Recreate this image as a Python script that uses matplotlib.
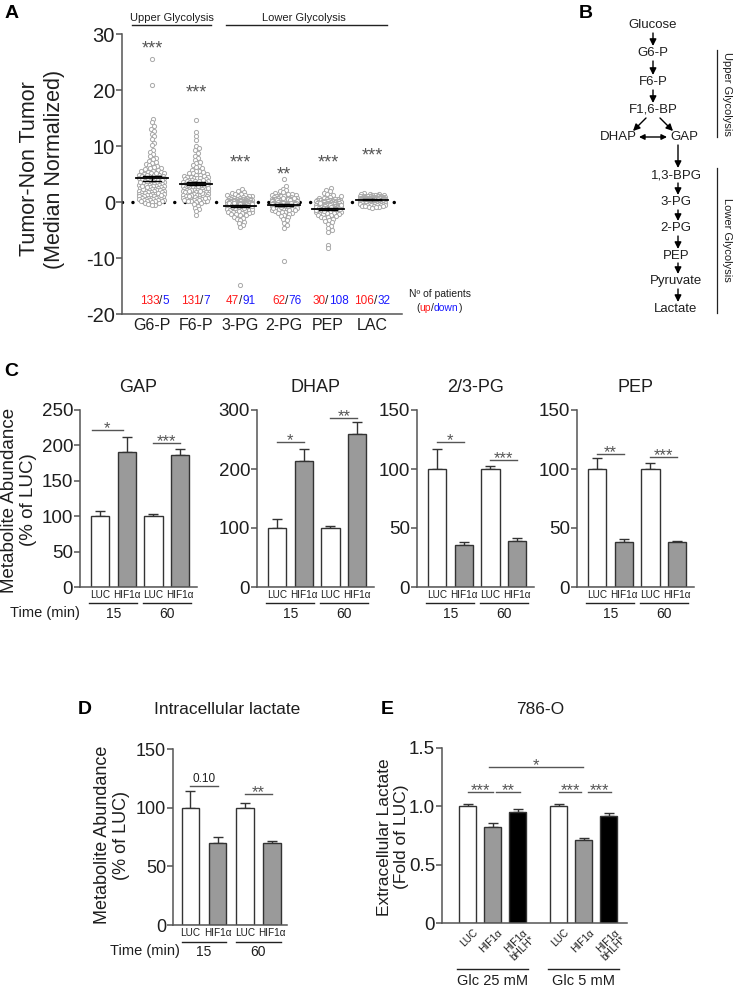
import numpy as np
import matplotlib
matplotlib.use('Agg')
import matplotlib.pyplot as plt
from matplotlib.transforms import blended_transform_factory as btf

plt.rcParams['font.family'] = ['Liberation Sans', 'DejaVu Sans']
plt.rcParams['axes.unicode_minus'] = False

# ---------------- DATA ----------------
a_metabolites = ['G6-P', 'F6-P', '3-PG', '2-PG', 'PEP', 'LAC']
a_up = [133, 131, 47, 62, 30, 106]
a_down = [5, 7, 91, 76, 108, 32]
a_means = [4.2, 3.3, -0.7, -0.5, -1.2, 0.4]
a_sems = [0.4, 0.3, 0.18, 0.2, 0.2, 0.06]
a_sig = ['***', '***', '***', '**', '***', '***']
a_sig_y = [28.3, 20.5, 8.0, 5.8, 8.0, 9.2]

g6p = [25.6, 20.9, 14.8, 14.2, 13.6, 13.1, 12.7, 12.2, 11.7, 11.2, 10.6, 10.1, 9.3, 8.9, 8.6, 8.2, 7.9, 7.7,
       7.4, 7.2, 7.0, 6.8, 6.6, 6.4, 6.3, 6.1, 6.0, 5.9, 5.7, 5.6, 5.5, 5.4, 5.3, 5.2, 5.1, 5.0, 4.9, 4.9, 4.8,
       4.7, 4.6, 4.6, 4.5, 4.4, 4.3, 4.3, 4.2, 4.1, 4.0, 4.0, 3.9, 3.8, 3.8, 3.7, 3.6, 3.6, 3.5, 3.4, 3.4, 3.3,
       3.2, 3.2, 3.1, 3.0, 3.0, 2.9, 2.8, 2.8, 2.7, 2.7, 2.6, 2.5, 2.5, 2.4, 2.4, 2.3, 2.2, 2.2, 2.1, 2.1, 2.0,
       1.9, 1.9, 1.8, 1.8, 1.7, 1.7, 1.6, 1.5, 1.5, 1.4, 1.4, 1.3, 1.3, 1.2, 1.1, 1.1, 1.0, 1.0, 0.9, 0.9, 0.8,
       0.8, 0.7, 0.7, 0.6, 0.6, 0.5, 0.5, 0.4, 0.4, 0.3, 0.3, 0.2, 0.2, 0.1, 0.1, 0.05, 3.5, 3.1, 2.6, 4.4, 4.8,
       2.3, 1.6, 5.2, 3.9, 2.9, 1.2, -0.1, -0.2, -0.3, -0.5, -0.6]
f6p = [14.6, 12.5, 11.7, 11.0, 10.0, 9.6, 9.3, 8.8, 8.3, 7.9, 7.5, 7.2, 6.9, 6.6, 6.4, 6.2, 6.0, 5.8, 5.6, 5.5,
       5.3, 5.2, 5.1, 5.0, 4.9, 4.8, 4.7, 4.6, 4.5, 4.5, 4.4, 4.3, 4.2, 4.1, 4.1, 4.0, 3.9, 3.8, 3.8, 3.7, 3.6,
       3.6, 3.5, 3.4, 3.4, 3.3, 3.2, 3.2, 3.1, 3.0, 3.0, 2.9, 2.9, 2.8, 2.7, 2.7, 2.6, 2.6, 2.5, 2.4, 2.4, 2.3,
       2.3, 2.2, 2.1, 2.1, 2.0, 2.0, 1.9, 1.8, 1.8, 1.7, 1.7, 1.6, 1.5, 1.5, 1.4, 1.4, 1.3, 1.2, 1.2, 1.1, 1.1,
       1.0, 0.9, 0.9, 0.8, 0.8, 0.7, 0.6, 0.6, 0.5, 0.5, 0.4, 0.3, 0.3, 0.2, 0.2, 0.1, 0.1, 0.05, 3.5, 2.8, 2.2,
       4.3, 1.6, 3.0, 2.5, 1.9, 3.7, 0.7, 1.3, 4.0, 2.0, 1.0, -0.2, -0.4, -0.7, -1.0, -1.3, -1.6, -2.3]
pg3 = [2.3, 2.0, 1.8, 1.6, 1.5, 1.4, 1.3, 1.2, 1.1, 1.0, 1.0, 0.9, 0.9, 0.8, 0.8, 0.7, 0.7, 0.6, 0.6, 0.6, 0.5,
       0.5, 0.5, 0.4, 0.4, 0.4, 0.4, 0.3, 0.3, 0.3, 0.3, 0.2, 0.2, 0.2, 0.2, 0.2, 0.1, 0.1, 0.1, 0.1, 0.1, 0.05,
       0.05, 0.05, 0.05, 0.02, 0.02,
       -0.05, -0.05, -0.1, -0.1, -0.1, -0.15, -0.15, -0.2, -0.2, -0.2, -0.25, -0.3, -0.3, -0.3, -0.35, -0.4,
       -0.4, -0.4, -0.45, -0.5, -0.5, -0.5, -0.55, -0.6, -0.6, -0.6, -0.65, -0.7, -0.7, -0.7, -0.75, -0.8, -0.8,
       -0.8, -0.85, -0.9, -0.9, -0.95, -1.0, -1.0, -1.05, -1.1, -1.1, -1.2, -1.2, -1.3, -1.3, -1.4, -1.4, -1.5,
       -1.5, -1.6, -1.7, -1.7, -1.8, -1.9, -2.0, -2.1, -2.2, -2.3, -2.4, -2.6, -2.8, -3.0, -3.2, -3.5, -3.8,
       -4.1, -4.5, -0.2, -0.3, -0.5, -0.6, -0.7, -0.8, -0.9, -1.0, -0.4, -0.1, -0.3, -0.6, -1.2, -0.9, -0.5,
       -0.7, -1.1, -0.2, -0.4, -14.9]
pg2 = [4.1, 2.8, 2.4, 2.1, 1.9, 1.7, 1.6, 1.5, 1.4, 1.3, 1.2, 1.1, 1.0, 1.0, 0.9, 0.9, 0.8, 0.8, 0.7, 0.7, 0.7,
       0.6, 0.6, 0.6, 0.5, 0.5, 0.5, 0.4, 0.4, 0.4, 0.4, 0.3, 0.3, 0.3, 0.3, 0.2, 0.2, 0.2, 0.2, 0.2, 0.15, 0.15,
       0.1, 0.1, 0.1, 0.1, 0.05, 0.05, 0.05, 0.02, 0.6, 0.4, 0.3, 0.2, 0.1, 0.8, 0.5, 0.3, 1.1, 0.7, 0.2, 0.4,
       -0.05, -0.1, -0.1, -0.15, -0.2, -0.2, -0.25, -0.3, -0.3, -0.35, -0.4, -0.4, -0.45, -0.5, -0.5, -0.55,
       -0.6, -0.6, -0.65, -0.7, -0.7, -0.75, -0.8, -0.8, -0.85, -0.9, -0.9, -1.0, -1.0, -1.1, -1.1, -1.2, -1.2,
       -1.3, -1.4, -1.4, -1.5, -1.6, -1.7, -1.8, -1.9, -2.0, -2.1, -2.3, -2.5, -2.7, -3.0, -3.3, -3.7, -4.1,
       -4.6, -0.2, -0.3, -0.4, -0.5, -0.6, -0.7, -0.8, -0.9, -0.1, -0.3, -0.5, -0.6, -1.0, -0.4, -0.2, -10.6]
pep = [2.5, 2.2, 1.9, 1.6, 1.4, 1.2, 1.0, 0.9, 0.8, 0.7, 0.6, 0.5, 0.5, 0.4, 0.4, 0.3, 0.3, 0.3, 0.2, 0.2, 0.2,
       0.15, 0.1, 0.1, 0.1, 0.05, 0.05, 0.05, 0.02, 0.02,
       -0.05, -0.1, -0.1, -0.15, -0.2, -0.2, -0.25, -0.3, -0.3, -0.35, -0.4, -0.4, -0.45, -0.5, -0.5, -0.55,
       -0.6, -0.6, -0.65, -0.7, -0.7, -0.75, -0.8, -0.8, -0.85, -0.9, -0.9, -0.95, -1.0, -1.0, -1.05, -1.1,
       -1.1, -1.15, -1.2, -1.2, -1.25, -1.3, -1.3, -1.35, -1.4, -1.4, -1.5, -1.5, -1.6, -1.6, -1.7, -1.7, -1.8,
       -1.8, -1.9, -2.0, -2.0, -2.1, -2.2, -2.3, -2.4, -2.5, -2.6, -2.7, -2.8, -3.0, -3.2, -3.4, -3.6, -3.9,
       -4.2, -4.6, -5.0, -5.3, -0.3, -0.6, -0.9, -1.2, -1.5, -0.8, -1.0, -1.3, -0.5, -0.7, -1.1, -1.4, -0.2,
       -0.9, -1.6, -1.0, -7.6, -8.3]
lac = [1.6, 1.5, 1.4, 1.35, 1.3, 1.25, 1.2, 1.2, 1.15, 1.1, 1.1, 1.05, 1.0, 1.0, 1.0, 0.95, 0.95, 0.9, 0.9, 0.9,
       0.85, 0.85, 0.8, 0.8, 0.8, 0.8, 0.75, 0.75, 0.75, 0.7, 0.7, 0.7, 0.7, 0.65, 0.65, 0.65, 0.6, 0.6, 0.6,
       0.6, 0.55, 0.55, 0.55, 0.5, 0.5, 0.5, 0.5, 0.5, 0.45, 0.45, 0.45, 0.45, 0.4, 0.4, 0.4, 0.4, 0.4, 0.35,
       0.35, 0.35, 0.35, 0.3, 0.3, 0.3, 0.3, 0.3, 0.25, 0.25, 0.25, 0.25, 0.2, 0.2, 0.2, 0.2, 0.2, 0.15, 0.15,
       0.15, 0.15, 0.1, 0.1, 0.1, 0.1, 0.1, 0.08, 0.08, 0.06, 0.06, 0.05, 0.05, 0.04, 0.04, 0.03, 0.03, 0.02,
       0.02, 0.6, 0.5, 0.4, 0.3, 0.7, 0.2, 0.45, 0.35, 0.55, 0.25,
       -0.05, -0.05, -0.1, -0.1, -0.1, -0.15, -0.15, -0.2, -0.2, -0.2, -0.25, -0.25, -0.3, -0.3, -0.35, -0.35,
       -0.4, -0.4, -0.45, -0.5, -0.5, -0.55, -0.6, -0.6, -0.65, -0.7, -0.75, -0.8, -0.85, -0.9, -0.95, -1.0]
a_values = [g6p, f6p, pg3, pg2, pep, lac]

c_titles = ['GAP', 'DHAP', '2/3-PG', 'PEP']
c_bar_labels = ['LUC', 'HIF1α', 'LUC', 'HIF1α']
c_times = ['15', '60']
c_vals = [[100, 191, 100, 187], [100, 213, 100, 260], [100, 36, 100, 39], [100, 38, 100, 38]]
c_errs = [[8, 21, 3, 8], [16, 21, 4, 19], [17, 2.5, 2.5, 2.5], [9, 3, 5, 1]]
c_ymax = [250, 300, 150, 150]
c_yticks = [[0, 50, 100, 150, 200, 250], [0, 100, 200, 300], [0, 50, 100, 150], [0, 50, 100, 150]]
c_sig = [[('*', 222), ('***', 204)], [('*', 246), ('**', 286)],
         [('*', 123), ('***', 108)], [('**', 112.5), ('***', 110)]]

d_vals = [100, 70, 100, 70]
d_errs = [14, 5, 4, 2]
d_sig = [('0.10', 118.5), ('**', 111.6)]

e_labels = ['LUC', 'HIF1α', 'HIF1α\nbHLH*', 'LUC', 'HIF1α', 'HIF1α\nbHLH*']
e_vals = [1.00, 0.82, 0.955, 1.00, 0.71, 0.92]
e_errs = [0.02, 0.035, 0.02, 0.02, 0.02, 0.025]
e_groups = ['Glc 25 mM', 'Glc 5 mM']
e_sig = [('***', 1.125, 0, 1), ('**', 1.125, 1.15, 2.1), ('***', 1.125, 3.65, 4.55),
         ('***', 1.125, 4.8, 5.75), ('*', 1.34, 0.86, 4.62)]

pathway = [('Glucose', 653, 25), ('G6-P', 653, 53), ('F6-P', 653, 82), ('F1,6-BP', 653, 110),
           ('DHAP', 618, 137), ('GAP', 684, 137), ('1,3-BPG', 676, 175), ('3-PG', 676, 202),
           ('2-PG', 676, 228), ('PEP', 676, 256), ('Pyruvate', 676, 281), ('Lactate', 676, 309)]

# ---------------- STYLE ----------------
W, H = 733, 986
TXT = '#1e1e1e'
SPINE = '#555555'
EDGE = '#333333'
GRAYBAR = '#9a9a9a'
SIGC = '#555555'
RED = '#ff1a1a'
BLUE = '#1a1aff'

fig = plt.figure(figsize=(W / 100, H / 100), dpi=100)


def rect(x0, y0, x1, y1):
    return [x0 / W, 1 - y1 / H, (x1 - x0) / W, (y1 - y0) / H]


def style_axes(ax, fs):
    for s in ['top', 'right']:
        ax.spines[s].set_visible(False)
    for s in ['left', 'bottom']:
        ax.spines[s].set_color(SPINE)
        ax.spines[s].set_linewidth(1.1)
    ax.tick_params(axis='y', colors=SPINE, labelcolor=TXT, labelsize=fs, length=4, width=1.1, pad=1)
    ax.tick_params(axis='x', length=0, labelcolor=TXT)


def stars(ax, x, y, txt, fs, dy_pt=0.0, **kw):
    # place asterisks so that their visual centre sits at (x, y) + dy
    ax.annotate(txt, xy=(x, y), xytext=(0, dy_pt - 0.56 * fs), textcoords='offset points',
                ha='center', va='baseline', fontsize=fs, color=SIGC, annotation_clip=False, **kw)


# ---------------- PANEL A ----------------
axA = fig.add_axes(rect(122, 34, 402, 314))
style_axes(axA, 14.5)
axA.set_xlim(-0.68, 5.68)
axA.set_ylim(-20, 30)
axA.set_yticks([-20, -10, 0, 10, 20, 30])
axA.set_xticks(range(6))
axA.set_xticklabels(a_metabolites, fontsize=11.5)
axA.tick_params(axis='x', pad=3)
axA.axhline(0, color='k', lw=2.5, dashes=(0.01, 3.0), dash_capstyle='round', zorder=1)

ppx = (axA.transData.transform((1, 0)) - axA.transData.transform((0, 0)))[0]


def swarm_offsets(ax, xc, vals, d, half):
    ypx = ax.transData.transform(np.column_stack([np.full(len(vals), xc), vals]))[:, 1]
    order = np.argsort(ypx)
    placed = []
    offs = np.zeros(len(vals))
    cands = [0.0]
    k = 1
    while k * 0.5 <= half:
        cands += [k * 0.5, -k * 0.5]
        k += 1
    cands = np.array(cands)
    for i in order:
        y = ypx[i]
        near = np.array([(px, py) for (px, py) in placed if abs(py - y) < d])
        if len(near) == 0:
            c = 0.0
        else:
            dist = np.sqrt((cands[:, None] - near[None, :, 0]) ** 2 + (y - near[None, :, 1]) ** 2).min(axis=1)
            ok = np.where(dist >= d)[0]
            c = cands[ok[0]] if len(ok) else cands[np.argmax(dist)]
        offs[i] = c
        placed.append((c, y))
    return offs


for i, vals in enumerate(a_values):
    vals = np.array(vals, dtype=float)
    offs = swarm_offsets(axA, i, vals, 3.5, 12.5)
    axA.plot(i + offs / ppx, vals, ls='none', marker='o', ms=3.0, mfc='white', mec='#a8a8a8',
             mew=0.7, zorder=3)
    m, s = a_means[i], a_sems[i]
    axA.plot([i - 0.36, i + 0.36], [m, m], color='k', lw=1.3, zorder=5)
    axA.plot([i, i], [m - s, m + s], color='k', lw=1.0, zorder=5)
    for yy in (m - s, m + s):
        axA.plot([i - 0.2, i + 0.2], [yy, yy], color='k', lw=1.0, zorder=5)
    stars(axA, i, a_sig_y[i], a_sig[i], 13)

# ---------------- PANEL C ----------------
c_left = [80, 257, 417, 577]
xs4 = np.arange(4)


def bar_panel(ax, xs, vals, errs, colors, width):
    ax.bar(xs, vals, width=width, color=colors, edgecolor=EDGE, linewidth=1.0, zorder=2)
    ax.errorbar(xs, vals, yerr=[np.zeros(len(errs)), errs], fmt='none', ecolor=EDGE,
                elinewidth=1.0, capsize=3.5, capthick=1.0, zorder=1)


def sig_line(ax, x1, x2, y, txt, fs=12):
    ax.plot([x1, x2], [y, y], color=SIGC, lw=1.0, clip_on=False)
    if txt.startswith('*'):
        stars(ax, (x1 + x2) / 2, y, txt, fs, dy_pt=4.5)
    else:
        ax.annotate(txt, xy=((x1 + x2) / 2, y), xytext=(0, 2.5), textcoords='offset points',
                    ha='center', va='baseline', fontsize=8.5, color=TXT, annotation_clip=False)


def group_lines(ax, centers, half, labels, yline, ytext, fs):
    tr = btf(ax.transData, ax.transAxes)
    for c, lab in zip(centers, labels):
        ax.plot([c - half, c + half], [yline, yline], color='#222222', lw=1.0, transform=tr, clip_on=False)
        ax.text(c, ytext, lab, transform=tr, ha='center', va='center', fontsize=fs, color=TXT)


for k in range(4):
    L = c_left[k]
    ax = fig.add_axes(rect(L, 410, L + 117, 587))
    style_axes(ax, 13.5)
    ax.set_xlim(-0.75, 3.63)
    ax.set_ylim(0, c_ymax[k])
    ax.set_yticks(c_yticks[k])
    bar_panel(ax, xs4, c_vals[k], c_errs[k], ['white', GRAYBAR, 'white', GRAYBAR], 0.68)
    ax.set_xticks(xs4)
    ax.set_xticklabels(c_bar_labels, fontsize=7.2)
    ax.tick_params(axis='x', pad=2)
    group_lines(ax, [0.5, 2.5], 0.9, c_times, -0.09, -0.15, 10)
    (s1, y1), (s2, y2) = c_sig[k]
    if k == 0:
        sig_line(ax, -0.3, 0.85, y1, s1)
    else:
        sig_line(ax, 0, 1, y1, s1)
    sig_line(ax, 2, 3, y2, s2)
    ax.set_title(c_titles[k], fontsize=13, color=TXT, pad=13)

# ---------------- PANEL D ----------------
axD = fig.add_axes(rect(173, 749, 287, 925))
style_axes(axD, 13)
axD.set_xlim(-0.64, 3.55)
axD.set_ylim(0, 150)
axD.set_yticks([0, 50, 100, 150])
bar_panel(axD, xs4, d_vals, d_errs, ['white', GRAYBAR, 'white', GRAYBAR], 0.64)
axD.set_xticks(xs4)
axD.set_xticklabels(c_bar_labels, fontsize=7.2)
axD.tick_params(axis='x', pad=2)
group_lines(axD, [0.5, 2.5], 0.82, c_times, -0.097, -0.155, 10)
sig_line(axD, 0, 1, d_sig[0][1], d_sig[0][0])
sig_line(axD, 2, 3, d_sig[1][1], d_sig[1][0])

# ---------------- PANEL E ----------------
axE = fig.add_axes(rect(442, 748, 627, 923))
style_axes(axE, 13.5)
e_x = [0, 1, 2, 3.65, 4.65, 5.65]
axE.set_xlim(-1.02, 6.38)
axE.set_ylim(0, 1.5)
axE.set_yticks([0, 0.5, 1.0, 1.5])
axE.set_yticklabels(['0', '0.5', '1.0', '1.5'])
bar_panel(axE, e_x, e_vals, e_errs, ['white', GRAYBAR, 'black'] * 2, 0.68)
axE.set_xticks([])
trE = btf(axE.transData, axE.transAxes)
for x, lab in zip(e_x, e_labels):
    axE.text(x + 0.2, -0.025, lab, transform=trE, rotation=45, rotation_mode='anchor',
             ha='right', va='top', fontsize=7.3, color=TXT, linespacing=0.95)
group_lines(axE, [1.0, 4.65], 1.42, e_groups, -0.263, -0.33, 10.5)
for txt, y, x1, x2 in e_sig:
    sig_line(axE, x1, x2, y, txt)

# ---------------- OVERLAY (pixel coords) ----------------
ov = fig.add_axes([0, 0, 1, 1], zorder=20)
ov.set_xlim(0, W)
ov.set_ylim(H, 0)
ov.axis('off')

for lab, x, y in [('A', 12, 13), ('B', 586, 13), ('C', 11, 372), ('D', 85, 709), ('E', 387, 710)]:
    ov.text(x, y, lab, ha='center', va='center', fontsize=14, fontweight='bold', color='k')

# A headers
ov.text(172, 18, 'Upper Glycolysis', ha='center', va='center', fontsize=8, color=TXT)
ov.plot([132, 211], [25, 25], color='#222222', lw=1.0)
ov.text(304, 18, 'Lower Glycolysis', ha='center', va='center', fontsize=8, color=TXT)
ov.plot([226, 387], [25, 25], color='#222222', lw=1.0)

# A y label
fig.text(42 / W, 1 - 169 / H, 'Tumor-Non Tumor\n(Median Normalized)', rotation=90, ha='center',
         va='center', fontsize=15.5, color=TXT, linespacing=1.25)

# up/down counts
slash_x = [161, 202, 241, 287, 327, 376]
for i in range(6):
    t = ov.text(slash_x[i], 301, '/', ha='center', va='center', fontsize=8.5, color=TXT)
    ov.annotate(str(a_up[i]), xycoords=t, xy=(0, 0), ha='right', va='bottom', fontsize=8.5, color=RED)
    ov.annotate(str(a_down[i]), xycoords=t, xy=(1, 0), ha='left', va='bottom', fontsize=8.5, color=BLUE)
ov.text(440, 294, 'Nº of patients', ha='center', va='center', fontsize=7.5, color=TXT)
t0 = ov.text(416, 308, '(', ha='left', va='center', fontsize=7.5, color=TXT)
t1 = ov.annotate('up', xycoords=t0, xy=(1, 0), va='bottom', fontsize=7.5, color=RED)
t2 = ov.annotate('/', xycoords=t1, xy=(1, 0), va='bottom', fontsize=7.5, color=TXT)
t3 = ov.annotate('down', xycoords=t2, xy=(1, 0), va='bottom', fontsize=7.5, color=BLUE)
ov.annotate(')', xycoords=t3, xy=(1, 0), va='bottom', fontsize=7.5, color=TXT)

# C / D / E y labels and Time labels
fig.text(19 / W, 1 - 500 / H, 'Metabolite Abundance\n(% of LUC)', rotation=90, ha='center', va='center',
         fontsize=13.5, color=TXT, linespacing=1.1)
fig.text(112 / W, 1 - 835 / H, 'Metabolite Abundance\n(% of LUC)', rotation=90, ha='center', va='center',
         fontsize=13, color=TXT, linespacing=1.1)
fig.text(393 / W, 1 - 837 / H, 'Extracellular Lactate\n(Fold of LUC)', rotation=90, ha='center', va='center',
         fontsize=12.5, color=TXT, linespacing=1.1)
ov.text(45, 613, 'Time (min)', ha='center', va='center', fontsize=10.5, color=TXT)
ov.text(145, 951, 'Time (min)', ha='center', va='center', fontsize=10.5, color=TXT)
ov.text(227, 709, 'Intracellular lactate', ha='center', va='center', fontsize=12.5, color=TXT)
ov.text(540, 710, '786-O', ha='center', va='center', fontsize=12.5, color=TXT)

# Panel B pathway
for lab, x, y in pathway:
    ov.text(x, y, lab, ha='center', va='center', fontsize=9.5, color=TXT)
arr = dict(arrowstyle='-|>', color='k', lw=1.0, mutation_scale=10, shrinkA=0, shrinkB=0)
for (x1, y1, x2, y2) in [(653, 33, 653, 46), (653, 61, 653, 75), (653, 90, 653, 103),
                         (646, 118, 633, 131), (660, 118, 673, 131),
                         (678, 145, 678, 168), (678, 183, 678, 195), (678, 210, 678, 221),
                         (678, 236, 678, 249), (678, 263, 678, 274), (678, 289, 678, 302)]:
    ov.annotate('', xy=(x2, y2), xytext=(x1, y1), arrowprops=arr)
ov.annotate('', xy=(667, 137), xytext=(639, 137),
            arrowprops=dict(arrowstyle='<|-|>', color='k', lw=1.0, mutation_scale=8, shrinkA=0, shrinkB=0))
ov.plot([717, 717], [50, 137], color='#222222', lw=0.9)
ov.plot([717, 717], [168, 313], color='#222222', lw=0.9)
ov.text(727, 94, 'Upper Glycolysis', rotation=-90, ha='center', va='center', fontsize=8, color=TXT)
ov.text(727, 240, 'Lower Glycolysis', rotation=-90, ha='center', va='center', fontsize=8, color=TXT)

fig.savefig('out.png', dpi=100)
